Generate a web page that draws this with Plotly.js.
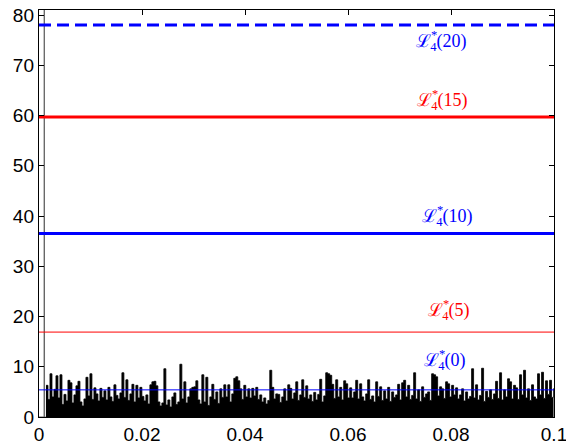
<!DOCTYPE html>
<html>
<head>
<meta charset="utf-8">
<script src="https://cdn.plot.ly/plotly-3.0.1.min.js"></script>
<style>html,body{margin:0;padding:0;background:#fff;}#chart{width:566px;height:446px;}</style>
</head>
<body>
<div id="chart"></div>
<script>
// Threshold levels L*_4(n)
const levelNames = ['0', '5', '10', '15', '20'];
const levelValues = [5.4, 16.9, 36.5, 59.7, 78.0];
const levelColors = ['#0000ff', '#ff0000', '#0000ff', '#ff0000', '#0000ff'];
const levelWidths = [1, 1, 3, 3, 3];
const levelDash = ['solid', 'solid', 'solid', 'solid', 'dash'];
const labelX = [0.0788, 0.0796, 0.0793, 0.0783, 0.0781];
const labelY = [11.0, 21.0, 39.8, 62.8, 74.6];

// Initial spike of the signal
const spikeTime = [0, 0.00098, 0.00103, 0.00108, 0.00130];
const spikeValue = [0, 0, 95, 0, 0];

// Noise signal samples (sampled every sampleStep from sampleStart)
const sampleStart = 0.001354;
const sampleStep = 0.000388;
const noiseValues = [
  6.3,3.5,8.6,4.0,5.5,8.2,3.8,8.4,2.5,4.5,3.2,7.3,6.8,2.8,4.4,6.2,7.1,3.0,2.2,3.6,
  7.9,4.2,8.6,3.5,5.8,4.6,3.2,5.7,3.9,5.2,3.4,5.9,4.0,3.1,6.4,4.3,3.6,4.8,8.8,3.9,
  7.4,3.3,4.6,6.5,3.0,6.3,3.8,5.9,4.1,
  3.2,4.4,2.6,6.4,7.0,7.1,6.2,3.0,2.2,2.8,9.6,2.4,3.4,2.0,4.0,4.8,2.5,3.0,10.5,3.6,
  7.0,2.8,4.0,5.6,5.9,6.0,7.2,3.4,2.6,8.4,3.0,7.9,2.3,4.0,6.5,3.5,5.0,2.7,5.6,3.9,
  6.4,4.0,6.4,3.0,4.6,7.7,8.0,7.2,5.6,3.5,6.3,4.0,
  5.6,3.8,5.7,4.2,5.9,3.5,4.4,3.0,3.8,2.6,3.3,9.3,5.9,3.6,4.6,4.5,2.9,4.0,5.6,3.2,
  6.4,5.7,3.6,4.8,7.0,3.3,4.4,7.4,3.9,6.2,3.6,4.4,3.1,4.9,3.4,4.5,7.5,3.0,4.2,8.8,
  8.6,8.3,6.5,3.7,7.4,4.0,5.9,3.4,7.2,6.6,3.8,5.8,
  3.8,5.0,7.3,3.6,6.6,4.0,3.2,4.6,7.4,3.5,4.2,3.0,7.0,4.1,6.0,3.3,5.2,3.6,5.9,3.1,
  5.0,3.9,4.4,6.5,3.4,6.8,7.3,4.0,6.3,3.5,4.3,8.8,3.6,5.4,3.1,6.0,3.9,4.6,5.0,3.3,
  8.6,8.4,8.0,4.2,6.0,5.6,3.7,7.0,6.6,4.0,6.3,4.4,
  5.8,3.6,4.4,5.6,3.2,5.0,3.6,4.1,9.6,3.8,6.4,3.4,4.3,9.7,3.1,5.1,3.9,5.4,3.5,4.6,
  7.1,3.7,8.8,3.4,5.4,4.0,7.6,7.0,3.6,6.3,5.8,3.5,8.4,4.4,9.3,3.8,5.6,3.3,6.4,4.0,
  3.6,8.6,4.4,8.9,3.7,7.2,4.5,7.3,3.9,5.7
];

const xTicks = [0, 0.02, 0.04, 0.06, 0.08, 0.1];
const xTickText = ['0', '0.02', '0.04', '0.06', '0.08', '0.1'];
const yTicks = [0, 10, 20, 30, 40, 50, 60, 70, 80];

const noiseTime = noiseValues.map((_, i) => sampleStart + i * sampleStep);

const traces = [];
traces.push({
  x: spikeTime, y: spikeValue, type: 'scatter', mode: 'lines',
  line: {color: '#666666', width: 1}, hoverinfo: 'skip', showlegend: false
});
traces.push({
  x: noiseTime, y: noiseValues, type: 'scatter', mode: 'lines',
  fill: 'tozeroy', fillcolor: '#000000',
  line: {color: '#000000', width: 0.8, shape: 'hv'}, hoverinfo: 'skip', showlegend: false
});
levelValues.forEach((v, i) => {
  traces.push({
    x: [xTicks[0], xTicks[xTicks.length - 1]], y: [v, v], type: 'scatter', mode: 'lines',
    line: {color: levelColors[i], width: levelWidths[i], dash: levelDash[i] === 'dash' ? '12px,6px' : 'solid'},
    hoverinfo: 'skip', showlegend: false
  });
});

const annotations = levelNames.map((n, i) => ({
  x: labelX[i], y: labelY[i], xref: 'x', yref: 'y',
  text: 'ℒ<sup><span style="letter-spacing:-7px">*</span></sup><sub>4</sub>(' + n + ')',
  showarrow: false,
  font: {family: 'Liberation Serif, DejaVu Serif, serif', size: 18, color: levelColors[i]},
  xanchor: 'center', yanchor: 'middle'
}));

const layout = {
  width: 566, height: 446,
  margin: {l: 39, r: 12, t: 10, b: 29, pad: 0},
  paper_bgcolor: '#ffffff', plot_bgcolor: '#ffffff',
  showlegend: false,
  font: {family: 'Liberation Sans, Arial, sans-serif', size: 19, color: '#000000'},
  xaxis: {
    range: [0, 0.1], tickvals: xTicks, ticktext: xTickText,
    ticklabeloverflow: 'allow',
    ticks: 'inside', ticklen: 5, tickwidth: 1, tickcolor: '#000',
    showline: true, linecolor: '#000', linewidth: 1.2, mirror: 'ticks',
    showgrid: false, zeroline: false, fixedrange: true
  },
  yaxis: {
    range: [0, 81], tickvals: yTicks,
    ticks: 'inside', ticklen: 5, tickwidth: 1, tickcolor: '#000',
    showline: true, linecolor: '#000', linewidth: 1.2, mirror: 'ticks',
    showgrid: false, zeroline: false, fixedrange: true
  },
  annotations: annotations
};

Plotly.newPlot('chart', traces, layout, {displayModeBar: false, staticPlot: true});
</script>
</body>
</html>
